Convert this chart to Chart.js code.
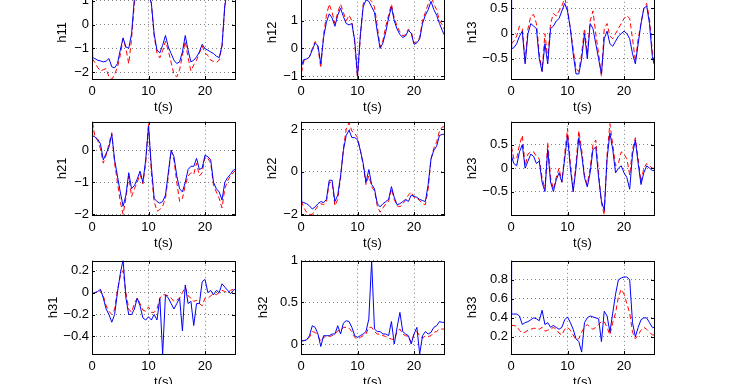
<!DOCTYPE html>
<html>
<head>
<meta charset="utf-8">
<script src="https://cdn.jsdelivr.net/npm/chart.js@4.4.0/dist/chart.umd.min.js"></script>
<style>
  html, body { margin: 0; padding: 0; background: #fff; }
  body { width: 746px; height: 384px; overflow: hidden; position: relative; }
  canvas { position: absolute; }
</style>
</head>
<body>
<script>
// time axis (s)
const t = [0, 0.1, 0.5, 1, 1.5, 2, 2.5, 3, 3.5, 4, 4.5, 5, 5.5, 6, 6.5, 7, 7.5, 8, 8.5, 9, 9.5,
  10, 10.5, 11, 11.5, 12, 12.5, 13, 13.5, 14, 14.5, 15, 15.5, 16, 16.5, 17, 17.5, 18, 18.5, 19, 19.5,
  20, 20.5, 21, 21.5, 22, 22.5, 23, 23.5, 24, 24.5, 25, 25.3];
const xTicks = [0, 10, 20];

// estimated (blue) and true (red dashed) values
const h11Est = [1.0, -1.39, -1.43, -1.5, -1.53, -1.57, -1.54, -1.43, -1.78, -1.82, -1.64, -1.08, -0.56, -0.94, -1.0, -0.39, 1.1, 1.5, 1.6, 1.6, 1.5,
  1.3, 0.9, -0.4, -1.08, -1.19, -0.87, -0.46, -0.94, -1.22, -1.5, -1.64, -1.57, -1.15, -0.46, -1.08, -1.57, -1.5, -1.36, -1.15, -0.83,
  -1.01, -1.08, -1.15, -1.22, -1.33, -1.39, -0.9, 0.8, 1.5, 1.6, 1.6, 1.6];
const h11True = [-1.45, -1.45, -1.6, -1.8, -1.95, -1.9, -1.85, -2.2, -2.3, -2.1, -1.8, -1.3, -0.6, -1.0, -1.65, -0.6, 0.9, 1.5, 1.6, 1.6, 1.5,
  1.3, 0.9, -0.5, -1.2, -1.4, -1.1, -0.7, -1.1, -1.6, -2.1, -2.2, -1.9, -1.3, -0.7, -1.4, -1.95, -1.7, -1.5, -1.2, -0.9,
  -1.2, -1.3, -1.5, -1.55, -1.6, -1.5, -0.9, 0.8, 1.5, 1.6, 1.6, 1.6];

const h12Est = [1.0, -0.6, -0.4, -0.38, -0.3, -0.05, 0.2, 0.1, -0.55, 0.4, 0.95, 1.25, 1.1, 0.8, 1.2, 1.45, 1.15, 0.9, 0.85, 0.9, 0.3,
  -1.0, 0.5, 1.5, 1.75, 1.7, 1.5, 1.3, 0.6, 0.0, 0.2, 0.6, 1.1, 1.5, 1.0, 0.7, 0.5, 0.4, 0.45, 0.65, 0.55,
  0.15, 0.2, 0.35, 0.9, 1.2, 1.4, 1.7, 1.4, 1.2, 0.9, 0.65, 0.5];
const h12True = [-0.85, -0.85, -0.45, -0.4, -0.3, 0.0, 0.25, 0.05, -0.7, 0.5, 1.2, 1.6, 1.3, 0.9, 1.3, 1.6, 1.3, 1.0, 1.2, 1.0, 0.2,
  -1.1, 0.4, 1.6, 1.9, 1.8, 1.7, 1.5, 0.8, 0.05, 0.3, 0.8, 1.2, 1.6, 1.1, 0.8, 0.6, 0.45, 0.5, 0.7, 0.6,
  0.2, 0.25, 0.4, 1.0, 1.3, 1.6, 1.9, 1.6, 1.4, 1.0, 0.85, 0.7];

const h13Est = [0.9, -0.3, -0.28, -0.2, -0.05, 0.05, -0.6, 0.0, 0.2, 0.15, 0.1, -0.5, -0.75, -0.2, -0.6, 0.1, 0.15, 0.25, 0.3, 0.45, 0.6,
  0.45, 0.1, -0.4, -0.8, -0.8, -0.5, 0.0, -0.5, 0.2, 0.1, -0.2, -0.5, -0.8, -0.1, 0.05, -0.2, -0.25, -0.15, -0.05, 0.0,
  0.05, 0.0, -0.1, -0.4, -0.6, -0.2, 0.2, 0.5, 0.55, 0.2, -0.45, -0.6];
const h13True = [-0.2, -0.2, -0.15, -0.05, 0.15, 0.1, -0.55, 0.1, 0.35, 0.38, 0.2, -0.4, -0.75, 0.0, -0.5, 0.2, 0.4, 0.35, 0.45, 0.55, 0.7,
  0.5, 0.1, -0.3, -0.7, -0.75, -0.4, 0.1, -0.4, 0.25, 0.45, 0.0, -0.4, -0.85, 0.1, 0.2, -0.05, -0.1, 0.0, 0.1, 0.2,
  0.3, 0.36, 0.3, -0.1, -0.55, -0.1, 0.2, 0.5, 0.6, 0.3, -0.35, -0.55];

const h21Est = [0.85, 0.45, 0.42, 0.35, 0.2, -0.3, -0.1, 0.1, 0.5, -0.3, -0.8, -1.3, -1.75, -1.4, -0.7, -1.2, -1.1, -0.9, -0.65, -1.0, -0.3,
  0.75, -0.5, -1.5, -1.6, -1.65, -1.6, -1.4, -0.7, 0.0, -0.2, -0.8, -1.2, -1.3, -1.0, -0.6, -0.5, -0.5, -0.25, -0.6, -0.55,
  -0.15, -0.2, -0.3, -1.0, -1.2, -1.3, -1.55, -1.0, -0.85, -0.75, -0.62, -0.6];
const h21True = [0.85, 0.85, 0.45, 0.3, 0.05, -0.4, -0.15, 0.2, 0.55, -0.4, -1.0, -1.6, -2.0, -1.5, -0.8, -1.45, -1.2, -1.0, -0.75, -1.05, -0.4,
  0.85, -0.7, -1.6, -1.9, -1.85, -1.75, -1.5, -0.8, 0.0, -0.3, -1.0, -1.6, -1.5, -1.1, -0.8, -0.7, -0.75, -0.4, -0.8, -0.7,
  -0.2, -0.25, -0.4, -1.1, -1.3, -1.5, -1.8, -1.2, -0.95, -0.8, -0.7, -0.65];

const h22Est = [0.0, -1.4, -1.45, -1.5, -1.6, -1.75, -1.65, -1.5, -1.4, -1.45, -1.3, -0.4, -0.4, -1.4, -1.1, -0.2, 1.0, 1.7, 1.95, 1.6, 1.6,
  1.5, 1.0, 0.4, -0.5, 0.1, -0.6, -0.8, -1.5, -1.65, -1.5, -1.4, -1.3, -0.7, -1.2, -1.55, -1.5, -1.4, -1.3, -1.4, -1.1,
  -1.15, -1.2, -1.3, -1.35, -1.4, -0.6, 0.6, 1.0, 1.2, 1.7, 1.75, 1.75];
const h22True = [-1.4, -1.4, -1.7, -1.9, -2.0, -2.0, -1.8, -1.6, -1.5, -1.55, -1.4, -0.5, -0.5, -1.6, -1.3, -0.3, 1.1, 2.0, 2.3, 1.9, 1.8,
  1.6, 1.0, 0.3, -0.6, -0.2, -0.7, -0.9, -1.6, -1.9, -1.7, -1.5, -1.4, -0.8, -1.3, -1.6, -1.65, -1.5, -1.35, -1.1, -0.95,
  -1.2, -1.25, -1.35, -1.5, -1.55, -0.8, 0.6, 1.1, 1.4, 1.9, 2.1, 2.1];

const h23Est = [0.4, 0.25, 0.1, 0.05, 0.35, 0.5, 0.0, 0.15, 0.3, 0.25, 0.1, 0.15, -0.3, -0.5, 0.4, -0.3, -0.5, -0.25, -0.1, -0.3, 0.2,
  0.7, 0.0, -0.5, 0.0, 0.65, 0.3, -0.2, -0.4, -0.1, 0.4, 0.45, -0.2, -0.7, -0.9, 0.2, 0.75, 0.4, -0.1, 0.0, 0.05,
  -0.1, -0.2, -0.45, 0.3, 0.6, 0.1, -0.35, -0.1, 0.05, 0.0, -0.05, -0.05];
const h23True = [0.45, 0.45, 0.2, 0.2, 0.5, 0.7, 0.05, 0.3, 0.35, 0.35, 0.25, 0.2, -0.2, -0.45, 0.55, -0.2, -0.45, -0.2, 0.0, -0.3, 0.3,
  0.85, 0.1, -0.5, 0.1, 0.8, 0.4, -0.15, -0.35, 0.0, 0.5, 0.6, -0.1, -0.75, -1.0, 0.3, 0.95, 0.5, 0.05, 0.1, 0.35,
  0.3, 0.2, -0.15, 0.4, 0.65, 0.2, -0.3, 0.0, 0.1, 0.05, 0.0, 0.0];

const h31Est = [0.0, -0.01, 0.0, 0.01, 0.03, -0.05, -0.15, -0.2, -0.27, -0.2, 0.0, 0.17, 0.3, -0.05, -0.2, -0.2, -0.15, -0.05, -0.12, -0.23, -0.25,
  -0.22, -0.25, -0.2, -0.25, -0.05, -0.56, -0.02, -0.05, -0.1, -0.15, -0.1, -0.05, -0.35, 0.07, -0.1, -0.08, -0.3, -0.1, -0.1, 0.1,
  0.12, 0.0, 0.02, -0.02, 0.02, 0.0, 0.08, 0.05, 0.02, -0.01, 0.02, 0.03];
const h31True = [-0.01, -0.01, 0.0, 0.0, 0.02, -0.03, -0.12, -0.17, -0.2, -0.15, 0.02, 0.15, 0.2, 0.0, -0.15, -0.18, -0.1, -0.05, -0.1, -0.16, -0.17,
  -0.13, -0.18, -0.18, -0.15, -0.05, -0.02, -0.02, -0.03, -0.05, -0.08, -0.07, -0.05, 0.0, 0.05, -0.03, -0.05, -0.08, -0.07, -0.1, -0.12,
  -0.05, -0.05, -0.03, -0.01, -0.02, 0.0, 0.02, 0.01, 0.0, 0.02, 0.03, 0.02];

const h32Est = [0.05, 0.04, 0.04, 0.05, 0.1, 0.22, 0.2, 0.12, -0.03, 0.1, 0.1, 0.1, 0.12, 0.12, 0.22, 0.12, 0.25, 0.28, 0.27, 0.2, 0.1,
  0.08, 0.1, 0.12, 0.15, 0.3, 1.0, 0.18, 0.15, 0.15, 0.12, 0.12, 0.1, 0.27, 0.0, 0.2, 0.38, 0.15, 0.12, 0.1, 0.0,
  0.12, 0.2, -0.12, 0.1, 0.15, 0.12, 0.14, 0.2, 0.22, 0.27, 0.26, 0.26];
const h32True = [0.04, 0.04, 0.04, 0.05, 0.08, 0.15, 0.14, 0.1, 0.03, 0.08, 0.09, 0.09, 0.1, 0.12, 0.16, 0.16, 0.2, 0.2, 0.19, 0.15, 0.08,
  0.06, 0.08, 0.1, 0.12, 0.2, 0.2, 0.15, 0.12, 0.12, 0.1, 0.09, 0.07, 0.06, 0.05, 0.15, 0.18, 0.12, 0.1, 0.09, 0.02,
  0.12, 0.15, 0.1, 0.07, 0.1, 0.09, 0.1, 0.14, 0.15, 0.18, 0.18, 0.18];

const h33Est = [1.0, 0.44, 0.44, 0.44, 0.42, 0.33, 0.35, 0.36, 0.38, 0.4, 0.39, 0.37, 0.48, 0.33, 0.35, 0.3, 0.32, 0.3, 0.28, 0.3, 0.38,
  0.41, 0.35, 0.28, 0.18, 0.15, 0.04, 0.35, 0.4, 0.42, 0.41, 0.4, 0.39, 0.15, 0.47, 0.42, 0.25, 0.45, 0.65, 0.8, 0.82,
  0.83, 0.83, 0.8, 0.35, 0.2, 0.3, 0.38, 0.4, 0.4, 0.35, 0.3, 0.3];
const h33True = [0.32, 0.32, 0.32, 0.31, 0.27, 0.24, 0.25, 0.27, 0.28, 0.29, 0.29, 0.28, 0.3, 0.26, 0.27, 0.28, 0.3, 0.28, 0.24, 0.22, 0.28,
  0.3, 0.27, 0.22, 0.17, 0.18, 0.25, 0.3, 0.33, 0.3, 0.28, 0.3, 0.33, 0.36, 0.36, 0.3, 0.22, 0.35, 0.45, 0.62, 0.7,
  0.65, 0.55, 0.45, 0.25, 0.18, 0.22, 0.27, 0.3, 0.28, 0.25, 0.22, 0.22];

// subplot names, y limits and tick labels
const names = ['h11', 'h12', 'h13', 'h21', 'h22', 'h23', 'h31', 'h32', 'h33'];
const estSeries = [h11Est, h12Est, h13Est, h21Est, h22Est, h23Est, h31Est, h32Est, h33Est];
const trueSeries = [h11True, h12True, h13True, h21True, h22True, h23True, h31True, h32True, h33True];
const yLimits = [[-2.29, 1.63], [-1.1, 2.26], [-0.9, 0.95], [-2.02, 0.89], [-2.03, 2.34], [-1.0, 0.99], [-0.56, 0.29], [-0.12, 1.0], [0.02, 1.0]];
const yTicks = [[-2, -1, 0, 1], [-1, 0, 1, 2], [-0.5, 0, 0.5], [-2, -1, 0], [-2, 0, 2], [-0.5, 0, 0.5], [-0.4, -0.2, 0, 0.2], [0, 0.5, 1], [0.2, 0.4, 0.6, 0.8]];

// layout of the 3x3 grid (page px)
const boxLeft = [92, 301, 511];
const boxTop = [-15, 121, 260];
const boxW = 143, boxH = 94;
const yAxisW = [37, 36, 46, 37, 36, 46, 46, 45, 46];
const xAxisH = 36, padTop = 10, padRight = 6;

Chart.defaults.font.family = '"Liberation Sans", Arial, sans-serif';
Chart.defaults.font.size = 13;
Chart.defaults.color = '#000';

const fmt = (v) => String(v).replace('-', '\u2212');

// box round the axes plus inward tick marks, like matlab
const boxPlugin = {
  id: 'box',
  afterDraw(chart) {
    const { ctx, chartArea: a, scales } = chart;
    ctx.save();
    ctx.strokeStyle = '#000';
    ctx.lineWidth = 1;
    ctx.beginPath();
    scales.x.ticks.forEach((tk) => {
      const px = Math.round(scales.x.getPixelForValue(tk.value)) + 0.5;
      ctx.moveTo(px, a.bottom); ctx.lineTo(px, a.bottom - 3);
      ctx.moveTo(px, a.top); ctx.lineTo(px, a.top + 3);
    });
    scales.y.ticks.forEach((tk) => {
      const py = Math.round(scales.y.getPixelForValue(tk.value)) + 0.5;
      ctx.moveTo(a.left, py); ctx.lineTo(a.left + 3, py);
      ctx.moveTo(a.right, py); ctx.lineTo(a.right - 3, py);
    });
    ctx.stroke();
    ctx.strokeRect(Math.round(a.left) + 0.5, Math.round(a.top) + 0.5, Math.round(a.right - a.left), Math.round(a.bottom - a.top));
    ctx.restore();
  }
};

names.forEach((name, i) => {
  const col = i % 3, row = Math.floor(i / 3);
  const canvas = document.createElement('canvas');
  const w = yAxisW[i] + boxW + padRight;
  const h = padTop + boxH + xAxisH;
  canvas.width = w; canvas.height = h;
  canvas.style.width = w + 'px'; canvas.style.height = h + 'px';
  canvas.style.left = (boxLeft[col] - yAxisW[i]) + 'px';
  canvas.style.top = (boxTop[row] - padTop) + 'px';
  document.body.appendChild(canvas);

  new Chart(canvas.getContext('2d'), {
    type: 'line',
    data: {
      datasets: [
        {
          label: name + ' estimate',
          data: t.map((x, k) => ({ x, y: estSeries[i][k] })),
          borderColor: '#0000ff',
          borderWidth: 1,
          pointRadius: 0,
          tension: 0,
          fill: false,
        },
        {
          label: name,
          data: t.map((x, k) => ({ x, y: trueSeries[i][k] })),
          borderColor: '#ff0000',
          borderWidth: 1,
          borderDash: [5, 3],
          pointRadius: 0,
          tension: 0,
          fill: false,
        },
      ],
    },
    options: {
      responsive: false,
      animation: false,
      events: [],
      layout: { padding: { left: 0, top: padTop, right: padRight, bottom: 0 } },
      plugins: { legend: { display: false }, tooltip: { enabled: false } },
      scales: {
        x: {
          type: 'linear',
          min: 0,
          max: 25.3,
          afterBuildTicks: (s) => { s.ticks = xTicks.map((v) => ({ value: v })); },
          afterFit: (s) => { s.height = xAxisH; },
          ticks: { padding: 5, maxRotation: 0, callback: fmt },
          grid: { color: 'rgba(0,0,0,0.5)', drawTicks: false },
          border: { display: false, dash: [1, 3] },
          title: { display: true, text: 't(s)', padding: 0 },
        },
        y: {
          min: yLimits[i][0],
          max: yLimits[i][1],
          afterBuildTicks: (s) => { s.ticks = yTicks[i].map((v) => ({ value: v })); },
          afterFit: (s) => { s.width = yAxisW[i]; },
          ticks: { padding: 3, callback: fmt },
          grid: { color: 'rgba(0,0,0,0.5)', drawTicks: false },
          border: { display: false, dash: [1, 3] },
          title: { display: true, text: name, padding: 0 },
        },
      },
    },
    plugins: [boxPlugin],
  });
});
</script>
</body>
</html>
